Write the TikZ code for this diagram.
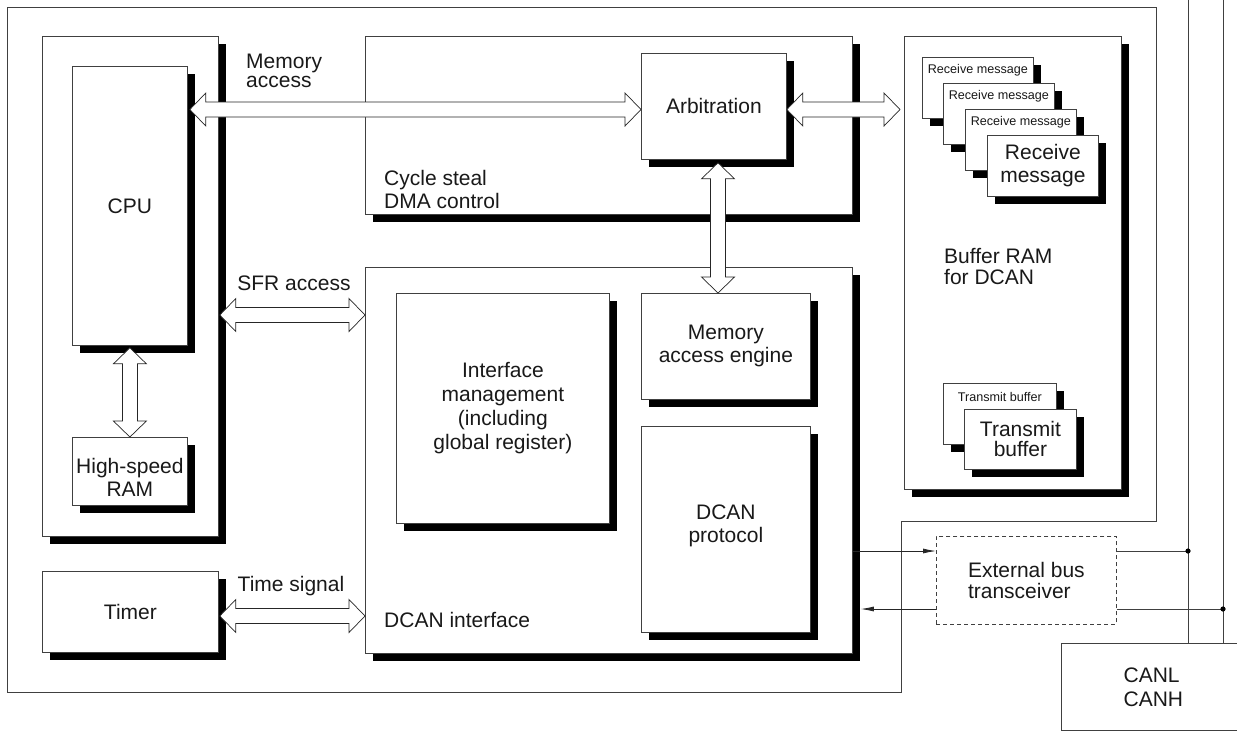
\documentclass[tikz,border=0pt]{standalone}
\usepackage{fontspec}
\setmainfont{Liberation Sans}
\usetikzlibrary{calc,shadows,arrows.meta}

% hollow two-headed block arrow between two named points
\newcommand\duplexarrow[2]{%
  \draw[blockarr]
    (#1)
    -- ($(#1)!16pt!(#2)!16.5pt!90:(#2)$)
    -- ($(#1)!16pt!(#2)!7.5pt!90:(#2)$)
    -- ($(#2)!16pt!(#1)!7.5pt!-90:(#1)$)
    -- ($(#2)!16pt!(#1)!16.5pt!-90:(#1)$)
    -- (#2)
    -- ($(#2)!16pt!(#1)!16.5pt!90:(#1)$)
    -- ($(#2)!16pt!(#1)!7.5pt!90:(#1)$)
    -- ($(#1)!16pt!(#2)!7.5pt!-90:(#2)$)
    -- ($(#1)!16pt!(#2)!16.5pt!-90:(#2)$)
    -- cycle;}

\begin{document}
\begin{tikzpicture}[x=1pt,y=-1pt,
  every node/.style={font=\fontsize{21}{23}\selectfont, text=black!90},
  box/.style={draw=black!75, line width=0.8pt, fill=white, inner sep=0pt,
    anchor=north west, align=center,
    general shadow={fill=black, shadow xshift=8pt, shadow yshift=-8pt}},
  plainbox/.style={draw=black!75, line width=0.8pt, fill=white, inner sep=0pt,
    anchor=north west, align=center},
  lbl/.style={inner sep=0pt, align=left, anchor=west},
  small/.style={inner sep=0pt, font=\fontsize{12.6}{14}\selectfont},
  blockarr/.style={draw=black!85, line width=0.7pt, fill=white, line join=miter},
  sig/.style={draw=black!85, line width=0.8pt, -{Latex[length=13pt,width=5pt]}},
  chip/.style={draw=black!75, line width=0.8pt},
  bus/.style={draw=black!75, line width=0.8pt},
]
\useasboundingbox (0,0) rectangle (1237,732);
\clip (0,0) rectangle (1237,732);

% chip outline
\draw[chip] (7,7) -- (1156,7) -- (1156,521) -- (901,521) -- (901,692) -- (7,692) -- cycle;

% CPU side
\node[box, minimum width=176, minimum height=500] (cpugrp) at (42,36) {};
\node[box, minimum width=115, minimum height=279] (cpu) at (72,66) {CPU};
\node[box, minimum width=115, minimum height=68] (hsram) at (72,437) {};
\node[inner sep=0pt, align=center] at ([yshift=-6pt]hsram.center) {High-speed\\RAM};
\node[box, minimum width=176, minimum height=81] (timer) at (42,571) {Timer};

% DMA control
\node[box, minimum width=487, minimum height=178] (dma) at (365,36) {};
\node[lbl] at (384,189) {Cycle steal\\DMA control};
\node[box, minimum width=145, minimum height=106] (arb) at (641,53) {Arbitration};

% DCAN interface
\node[box, minimum width=487, minimum height=386] (dif) at (365,267) {};
\node[lbl] at (384,620) {DCAN interface};
\node[box, minimum width=213, minimum height=230] (im) at (396,293)
  {Interface\\[1pt]management\\[1pt](including\\[1pt]global register)};
\node[box, minimum width=169, minimum height=106] (mae) at (641,293) {Memory\\access engine};
\node[box, minimum width=169, minimum height=206] (dcp) at (641,426) {};
\node[inner sep=0pt, align=center] at ([yshift=4pt]dcp.center) {DCAN\\protocol};

% buffer RAM
\node[box, minimum width=217, minimum height=453] (buf) at (904,36) {};
\node[lbl, font=\fontsize{21}{21}\selectfont] at (944,266) {Buffer RAM\\for DCAN};
\node[box, minimum width=111, minimum height=61] (rx1) at (922,57) {};
\node[small] at ([yshift=-13pt]rx1.north) {Receive message};
\node[box, minimum width=111, minimum height=61] (rx2) at (943,83) {};
\node[small] at ([yshift=-13pt]rx2.north) {Receive message};
\node[box, minimum width=111, minimum height=61] (rx3) at (965,109) {};
\node[small] at ([yshift=-13pt]rx3.north) {Receive message};
\node[box, minimum width=111, minimum height=61] (rx4) at (987,135) {Receive\\message};
\node[box, minimum width=113, minimum height=61] (tx1) at (943,383) {};
\node[small] at ([yshift=-14pt]tx1.north) {Transmit buffer};
\node[box, minimum width=112, minimum height=60, font=\fontsize{21}{20}\selectfont] (tx2) at (964,409) {Transmit\\buffer};

% off-chip parts
\node[plainbox, dashed, dash pattern=on 4pt off 3pt, align=left, minimum width=180, minimum height=88,
  font=\fontsize{21}{21}\selectfont] (xcvr) at (936,536) {External bus\\transceiver};
\node[plainbox, align=left, minimum width=184, minimum height=87,
  font=\fontsize{21}{24}\selectfont] (canl) at (1061,643) {CANL\\CANH};

% label texts of the bus arrows
\node[lbl, font=\fontsize{21}{19}\selectfont] at (246,71) {Memory\\access};
\node[inner sep=0pt] at (294,283) {SFR access};
\node[inner sep=0pt] at (291,586) {Time signal};

% arrow end points
\coordinate (yMem) at (0,109.5);
\coordinate (ySFR) at (0,315);
\coordinate (yTime) at (0,616);
\coordinate (xV) at (718,0);
\coordinate (ma-a) at ([xshift=2pt]cpu.east |- yMem);
\coordinate (ma-b) at (arb.west |- yMem);
\coordinate (ab-a) at (arb.east |- yMem);
\coordinate (ab-b) at ([xshift=-4pt]buf.west |- yMem);
\coordinate (am-a) at ([yshift=-3pt]arb.south -| xV);
\coordinate (am-b) at (mae.north -| xV);
\coordinate (sf-a) at ([xshift=1pt]cpugrp.east |- ySFR);
\coordinate (sf-b) at (dif.west |- ySFR);
\coordinate (ts-a) at ([xshift=1pt]timer.east |- yTime);
\coordinate (ts-b) at (dif.west |- yTime);
\coordinate (cr-a) at ([yshift=-2pt]cpu.south);
\coordinate (cr-b) at (hsram.north);

\duplexarrow{ma-a}{ma-b}
\duplexarrow{ab-a}{ab-b}
\duplexarrow{am-a}{am-b}
\duplexarrow{sf-a}{sf-b}
\duplexarrow{ts-a}{ts-b}
\duplexarrow{cr-a}{cr-b}

% signals between DCAN and the transceiver
\coordinate (ySigA) at (0,551);
\coordinate (ySigB) at (0,609);
\coordinate (busL) at (1188,0);
\coordinate (busH) at (1223,0);
\draw[sig] (dif.east |- ySigA) -- (xcvr.west |- ySigA);
\draw[sig] (xcvr.west |- ySigB) -- ([xshift=8pt]dif.east |- ySigB);

% CAN bus lines
\draw[bus] (busL) -- (canl.north -| busL);
\draw[bus] (busH) -- (canl.north -| busH);
\draw[bus] (xcvr.east |- ySigA) -- (busL |- ySigA);
\draw[bus] (xcvr.east |- ySigB) -- (busH |- ySigB);
\fill (busL |- ySigA) circle (2.6);
\fill (busH |- ySigB) circle (2.6);
\end{tikzpicture}
\end{document}
